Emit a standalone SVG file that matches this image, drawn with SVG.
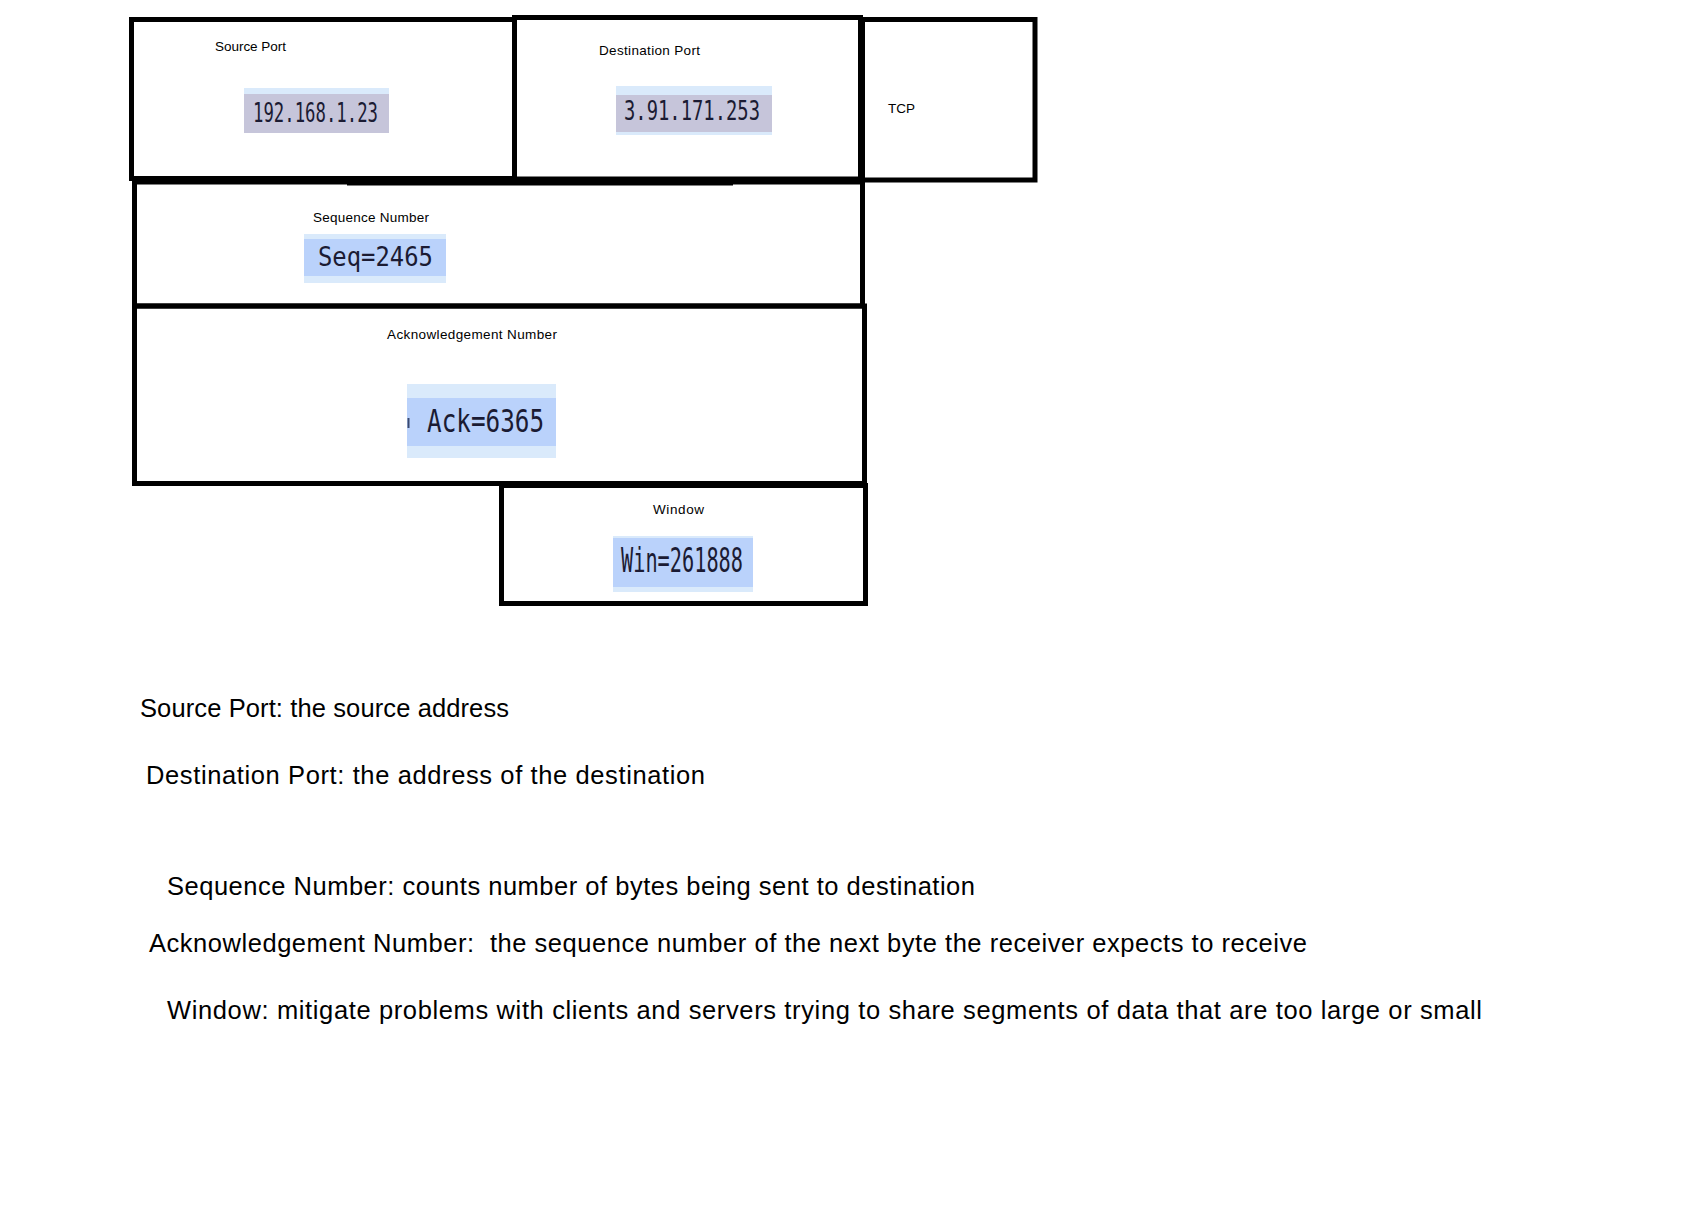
<svg xmlns="http://www.w3.org/2000/svg" width="1694" height="1226" viewBox="0 0 1694 1226">
<style>
.box{fill:none;stroke:#000;stroke-width:5}
.lbl{font-family:"Liberation Sans",Arial,sans-serif;font-size:13.5px;fill:#000}
.hl-light{fill:#DAEAFB}
.hl-gray{fill:#C6C5DA}
.hl-blue{fill:#BAD2FB}
.mono{font-family:"DejaVu Sans Mono","Liberation Mono",monospace;fill:#1B1B33}
.desc{font-family:"Liberation Sans",Arial,sans-serif;font-size:25.5px;fill:#000;white-space:pre}
</style>
<rect width="1694" height="1226" fill="#fff"/>
<g id="src-port">
<rect class="box" x="131.5" y="19.5" width="383" height="159"/>
<text class="lbl" x="215" y="51" textLength="71">Source Port</text>
<rect class="hl-light" x="244" y="88" width="145" height="7"/>
<rect class="hl-gray" x="244" y="94" width="145" height="39"/>
<text class="mono" x="253" y="122" font-size="27" textLength="125" lengthAdjust="spacingAndGlyphs">192.168.1.23</text>
</g>
<g id="dst-port">
<rect class="box" x="514.5" y="17.5" width="346" height="161.5"/>
<text class="lbl" x="599" y="55" textLength="101">Destination Port</text>
<rect class="hl-light" x="616" y="86" width="156" height="49"/>
<rect class="hl-gray" x="616" y="95" width="156" height="37"/>
<text class="mono" x="624" y="120" font-size="26" textLength="136" lengthAdjust="spacingAndGlyphs">3.91.171.253</text>
</g>
<g id="tcp">
<rect class="box" x="862.5" y="19.5" width="172.5" height="160.5"/>
<text class="lbl" x="888" y="113" font-size="11">TCP</text>
</g>
<g id="seq">
<rect class="box" x="134.5" y="182" width="728" height="124"/>
<line x1="347" y1="183" x2="733" y2="183" stroke="#000" stroke-width="5"/>
<text class="lbl" x="313" y="222" textLength="116">Sequence Number</text>
<rect class="hl-light" x="304" y="234" width="142" height="49"/>
<rect class="hl-blue" x="304" y="239" width="142" height="37"/>
<text class="mono" x="318" y="266" font-size="26" textLength="115" lengthAdjust="spacingAndGlyphs">Seq=2465</text>
</g>
<g id="ack">
<rect class="box" x="134.5" y="306" width="730" height="177.5"/>
<text class="lbl" x="387" y="339" textLength="170">Acknowledgement Number</text>
<rect class="hl-light" x="407" y="384" width="149" height="74"/>
<rect class="hl-blue" x="407" y="398" width="149" height="48"/>
<path d="M407.5 418 h2 v10 h-2 z" fill="#3A4A70"/>
<text class="mono" x="427" y="432" font-size="32" textLength="117" lengthAdjust="spacingAndGlyphs">Ack=6365</text>
</g>
<g id="window">
<rect class="box" x="501.5" y="485.5" width="364" height="118"/>
<text class="lbl" x="653" y="514" textLength="51">Window</text>
<rect class="hl-light" x="613" y="536" width="140" height="56"/>
<rect class="hl-blue" x="613" y="538" width="140" height="49"/>
<text class="mono" x="621" y="572" font-size="34" textLength="122" lengthAdjust="spacingAndGlyphs">Win=261888</text>
</g>
<g id="connectors"></g>
<g id="descriptions">
<text class="desc" x="140" y="717" textLength="369">Source Port: the source address</text>
<text class="desc" x="146" y="784" textLength="559">Destination Port: the address of the destination</text>
<text class="desc" x="167" y="895" textLength="808">Sequence Number: counts number of bytes being sent to destination</text>
<text class="desc" x="149" y="952" textLength="1158">Acknowledgement Number:  the sequence number of the next byte the receiver expects to receive</text>
<text class="desc" x="167" y="1019" textLength="1315">Window: mitigate problems with clients and servers trying to share segments of data that are too large or small</text>
</g>
</svg>
